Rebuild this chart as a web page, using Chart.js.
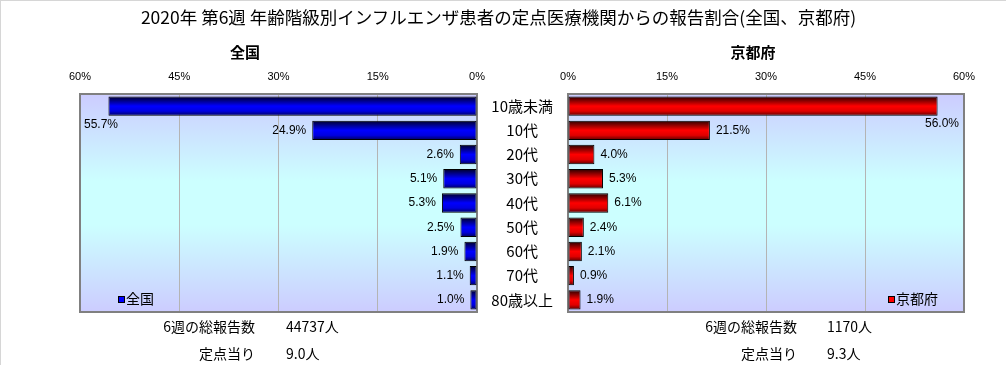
<!DOCTYPE html>
<html>
<head>
<meta charset="utf-8">
<script src="https://cdn.jsdelivr.net/npm/chart.js@4"></script>
<style>
  body { margin: 0; background: #fff; }
  #wrap { position: relative; width: 1006px; height: 365px; overflow: hidden;
          border-top: 1px solid #d6d6d6; border-left: 1px solid #d6d6d6; box-sizing: border-box; }
  .txt { position: absolute; font-family: "Noto Sans CJK JP", sans-serif; color: #000; white-space: nowrap; line-height: 1; }
  #leftBox { position: absolute; left: 0; top: 0; width: 500px; height: 365px; }
  #rightBox { position: absolute; left: 470px; top: 0; width: 536px; height: 365px; }
</style>
</head>
<body>
<div id="wrap">
  <div id="leftBox"><canvas id="grafico_zenkoku" width="500" height="365"></canvas></div>
  <div id="rightBox"><canvas id="grafico_kyoto" width="536" height="365"></canvas></div>

  <div class="txt" style="left:0; width:995px; text-align:center; top:7px; font-size:17.5px;">2020年 第6週 年齢階級別インフルエンザ患者の定点医療機関からの報告割合(全国、京都府)</div>
  <div class="txt" style="left:204px; width:80px; text-align:center; top:43px; font-size:15px; font-weight:bold;">全国</div>
  <div class="txt" style="left:712px; width:80px; text-align:center; top:43px; font-size:15px; font-weight:bold;">京都府</div>

  <div class="txt" id="st1" style="right:751px; top:318px; font-size:14px;"></div>
  <div class="txt" id="sv1" style="left:285px; top:318px; font-size:14px;"></div>
  <div class="txt" id="st2" style="right:751px; top:345px; font-size:14px;"></div>
  <div class="txt" id="sv2" style="left:285px; top:345px; font-size:14px;"></div>

  <div class="txt" id="st3" style="right:209px; top:318px; font-size:14px;"></div>
  <div class="txt" id="sv3" style="left:826px; top:318px; font-size:14px;"></div>
  <div class="txt" id="st4" style="right:209px; top:345px; font-size:14px;"></div>
  <div class="txt" id="sv4" style="left:826px; top:345px; font-size:14px;"></div>
</div>
<script>
// dados
const ageGroups = ['10歳未満', '10代', '20代', '30代', '40代', '50代', '60代', '70代', '80歳以上'];
const zenkoku = [55.7, 24.9, 2.6, 5.1, 5.3, 2.5, 1.9, 1.1, 1.0];
const kyoto = [56.0, 21.5, 4.0, 5.3, 6.1, 2.4, 2.1, 0.9, 1.9];
const pctMax = 60;
const pctStep = 15;
const statLabels = ['6週の総報告数', '定点当り'];
const zenkokuStats = ['44737人', '9.0人'];
const kyotoStats = ['1170人', '9.3人'];

document.getElementById('st1').textContent = statLabels[0];
document.getElementById('st2').textContent = statLabels[1];
document.getElementById('st3').textContent = statLabels[0];
document.getElementById('st4').textContent = statLabels[1];
document.getElementById('sv1').textContent = zenkokuStats[0];
document.getElementById('sv2').textContent = zenkokuStats[1];
document.getElementById('sv3').textContent = kyotoStats[0];
document.getElementById('sv4').textContent = kyotoStats[1];

const blueStops = ['#000020', '#0000ff', '#0000e0', '#000050'];
const redStops = ['#200000', '#ff0000', '#e00000', '#500000'];

function barFill(stops) {
  return (ctx) => {
    const chart = ctx.chart;
    if (ctx.type !== 'data' || !chart.chartArea) return stops[1];
    const c = chart.scales.y.getPixelForValue(ctx.dataIndex);
    const g = chart.ctx.createLinearGradient(0, c - 10, 0, c + 10);
    g.addColorStop(0, stops[0]);
    g.addColorStop(0.5, stops[1]);
    g.addColorStop(0.75, stops[2]);
    g.addColorStop(1, stops[3]);
    return g;
  };
}

// fundo do grafico
const plotBg = {
  id: 'plotBg',
  beforeDraw(chart) {
    const a = chart.chartArea;
    const ctx = chart.ctx;
    const g = ctx.createLinearGradient(0, a.top, 0, a.bottom);
    g.addColorStop(0, '#ccccff');
    g.addColorStop(0.4, '#ccffff');
    g.addColorStop(0.6, '#ccffff');
    g.addColorStop(1, '#ccccff');
    ctx.save();
    ctx.fillStyle = g;
    ctx.fillRect(a.left, a.top, a.right - a.left, a.bottom - a.top);
    ctx.restore();
  },
  beforeDatasetsDraw(chart) {
    const a = chart.chartArea;
    const ctx = chart.ctx;
    ctx.save();
    ctx.strokeStyle = '#808080';
    ctx.lineWidth = 2;
    ctx.strokeRect(a.left, a.top, a.right - a.left, a.bottom - a.top);
    ctx.restore();
  }
};

// rotulos dos valores
const valueLabels = {
  id: 'valueLabels',
  afterDatasetsDraw(chart) {
    const ctx = chart.ctx;
    const a = chart.chartArea;
    const reversed = chart.options.scales.x.reverse;
    const meta = chart.getDatasetMeta(0);
    const values = chart.data.datasets[0].data;
    ctx.save();
    ctx.font = '12px "Liberation Sans", Arial, sans-serif';
    ctx.fillStyle = '#000';
    ctx.textBaseline = 'middle';
    meta.data.forEach((bar, i) => {
      const txt = values[i].toFixed(1) + '%';
      const w = ctx.measureText(txt).width;
      if (reversed) {
        if (bar.x - a.left > w + 10) {
          ctx.textAlign = 'right';
          ctx.fillText(txt, bar.x - 6, bar.y);
        } else {
          ctx.textAlign = 'left';
          ctx.fillText(txt, a.left + 4, bar.y + 19);
        }
      } else {
        if (a.right - bar.x > w + 10) {
          ctx.textAlign = 'left';
          ctx.fillText(txt, bar.x + 6, bar.y);
        } else {
          ctx.textAlign = 'right';
          ctx.fillText(txt, a.right - 5, bar.y + 18);
        }
      }
    });
    ctx.restore();
  }
};

// legenda dentro do grafico
const innerLegend = {
  id: 'innerLegend',
  afterDraw(chart) {
    const ctx = chart.ctx;
    const ds = chart.data.datasets[0];
    const pos = chart.options.plugins.innerLegend;
    ctx.save();
    ctx.fillStyle = ds.legendColor;
    ctx.fillRect(pos.x, pos.y - 3, 6, 6);
    ctx.strokeStyle = '#000';
    ctx.lineWidth = 1;
    ctx.strokeRect(pos.x + 0.5, pos.y - 2.5, 6, 6);
    ctx.fillStyle = '#000';
    ctx.font = '14px "Noto Sans CJK JP", sans-serif';
    ctx.textBaseline = 'middle';
    ctx.textAlign = 'left';
    ctx.fillText(ds.label, pos.x + 8, pos.y);
    ctx.restore();
  }
};

function makeX(reverse) {
  return {
    position: 'top',
    reverse: reverse,
    min: 0,
    max: pctMax,
    afterFit: (s) => { s.height = 30; },
    grid: { color: '#b4b4b4', drawTicks: false },
    border: { display: false },
    ticks: {
      stepSize: pctStep,
      padding: 10,
      color: '#000',
      font: { family: '"Liberation Sans", Arial, sans-serif', size: 11 },
      callback: (v) => v + '%'
    }
  };
}

const grafico_zenkoku = new Chart(document.getElementById('grafico_zenkoku'), {
  type: 'bar',
  data: {
    labels: ageGroups,
    datasets: [{
      label: '全国',
      data: zenkoku,
      backgroundColor: barFill(blueStops),
      legendColor: '#0000ff',
      borderColor: '#000',
      borderWidth: 1,
      borderSkipped: false,
      categoryPercentage: 1,
      barPercentage: 0.8
    }]
  },
  options: {
    indexAxis: 'y',
    responsive: false,
    animation: false,
    layout: { padding: { left: 79, right: 24, top: 63, bottom: 54 } },
    scales: {
      x: makeX(true),
      y: { display: false }
    },
    plugins: {
      legend: { display: false },
      tooltip: { enabled: false },
      innerLegend: { x: 117, y: 298 }
    }
  },
  plugins: [plotBg, valueLabels, innerLegend]
});

const grafico_kyoto = new Chart(document.getElementById('grafico_kyoto'), {
  type: 'bar',
  data: {
    labels: ageGroups,
    datasets: [{
      label: '京都府',
      data: kyoto,
      backgroundColor: barFill(redStops),
      legendColor: '#ff0000',
      borderColor: '#000',
      borderWidth: 1,
      borderSkipped: false,
      categoryPercentage: 1,
      barPercentage: 0.8
    }]
  },
  options: {
    indexAxis: 'y',
    responsive: false,
    animation: false,
    layout: { padding: { left: 0, right: 43, top: 63, bottom: 54 } },
    scales: {
      x: makeX(false),
      y: {
        afterFit: (s) => { s.width = 97; },
        grid: { display: false, drawTicks: false },
        border: { display: false },
        ticks: {
          crossAlign: 'center',
          padding: 15,
          color: '#000',
          font: { family: '"Noto Sans CJK JP", sans-serif', size: 15 }
        }
      }
    },
    plugins: {
      legend: { display: false },
      tooltip: { enabled: false },
      innerLegend: { x: 417, y: 298 }
    }
  },
  plugins: [plotBg, valueLabels, innerLegend]
});
</script>
</body>
</html>
